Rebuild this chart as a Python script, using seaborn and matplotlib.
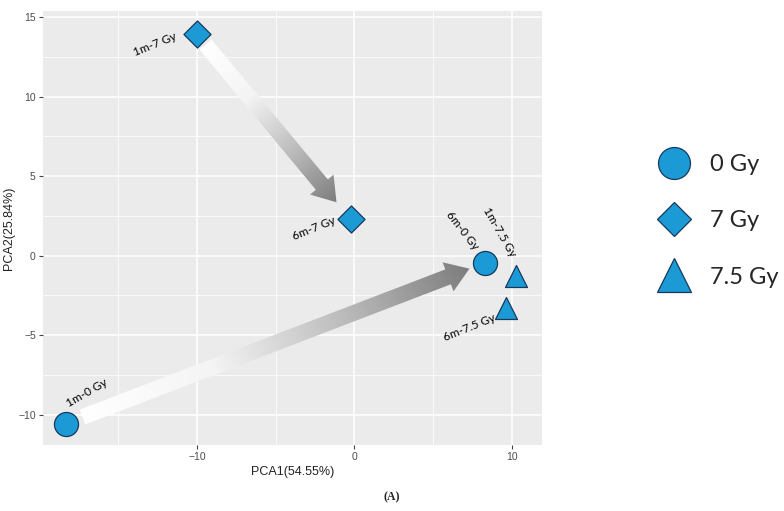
import matplotlib

matplotlib.use("Agg")
import matplotlib.pyplot as plt
import numpy as np
import pandas as pd
import seaborn as sns
from matplotlib.colors import LinearSegmentedColormap
from matplotlib.lines import Line2D
from matplotlib.patches import FancyArrow

# data
sample_labels = ["1m-0 Gy", "6m-0 Gy", "1m-7 Gy", "6m-7 Gy", "1m-7.5 Gy", "6m-7.5 Gy"]
dose_groups = ["0 Gy", "0 Gy", "7 Gy", "7 Gy", "7.5 Gy", "7.5 Gy"]
pca1 = [-18.35, 8.3, -10.0, -0.23, 10.27, 9.64]
pca2 = [-10.55, -0.44, 13.93, 2.29, -1.3, -3.3]
dose_levels = ["0 Gy", "7 Gy", "7.5 Gy"]
x_ticks = [-10, 0, 10]
y_ticks = [-10, -5, 0, 5, 10, 15]

df = pd.DataFrame({"label": sample_labels, "dose": dose_groups, "PCA1": pca1, "PCA2": pca2})

sns.set_theme(style="darkgrid")
plt.rcParams["font.family"] = ["Liberation Sans", "DejaVu Sans"]

BLUE = "#1b9ad6"
EDGE = "#163a5c"
marker_map = {"0 Gy": "o", "7 Gy": "D", "7.5 Gy": "^"}
size_map = {"0 Gy": 300, "7 Gy": 190, "7.5 Gy": 250}

fig = plt.figure(figsize=(7.84, 5.11), dpi=100)
ax = fig.add_axes([0.0545, 0.1292, 0.6372, 0.8499])
ax.set_facecolor("#ebebeb")

xlim = (-19.8, 11.95)
ylim = (-11.9, 15.41)

# gradient arrows: white at the start, grey at the head
cmap = LinearSegmentedColormap.from_list("fade", ["#ffffff", "#f4f4f4", "#bdbdbd", "#7d7d7d"])


def gradient_arrow(ax, p0, p1, shrink0, shrink1, width=1.0, head_w=1.95, head_l=1.45):
    p0 = np.array(p0)
    p1 = np.array(p1)
    d = p1 - p0
    u = d / np.linalg.norm(d)
    a = p0 + u * shrink0
    b = p1 - u * shrink1
    dd = b - a
    arrow = FancyArrow(a[0], a[1], dd[0], dd[1], width=width, head_width=head_w,
                       head_length=head_l, length_includes_head=True,
                       facecolor="none", edgecolor="none", transform=ax.transData)
    ax.add_patch(arrow)
    xs = np.linspace(xlim[0], xlim[1], 400)
    ys = np.linspace(ylim[0], ylim[1], 400)
    X, Y = np.meshgrid(xs, ys)
    t = ((X - a[0]) * dd[0] + (Y - a[1]) * dd[1]) / (dd @ dd)
    im = ax.imshow(np.clip(t, 0, 1), extent=(xlim[0], xlim[1], ylim[0], ylim[1]),
                   origin="lower", cmap=cmap, vmin=0, vmax=1, aspect="auto",
                   zorder=2, interpolation="bilinear")
    im.set_clip_path(arrow)


pos = df.set_index("label")[["PCA1", "PCA2"]]
gradient_arrow(ax, pos.loc["1m-7 Gy"].values, pos.loc["6m-7 Gy"].values, 0.85, 1.4)
gradient_arrow(ax, pos.loc["1m-0 Gy"].values, pos.loc["6m-0 Gy"].values, 1.15, 1.05)

for dose in dose_levels:
    sub = df[df["dose"] == dose]
    sns.scatterplot(data=sub, x="PCA1", y="PCA2", marker=marker_map[dose], s=size_map[dose],
                    color=BLUE, edgecolor=EDGE, linewidth=0.9, ax=ax, zorder=3, legend=False)

# point labels (offset in pixels, rotation)
label_style = {
    "1m-7 Gy": (-42, -10, 22),
    "6m-7 Gy": (-37, -9, 22),
    "6m-0 Gy": (-23, 32, -52),
    "1m-7.5 Gy": (-16, 44, -60),
    "6m-7.5 Gy": (-37, -19, 22),
    "1m-0 Gy": (21, 31, 30),
}
for lab, x, y in zip(df["label"], df["PCA1"], df["PCA2"]):
    ox, oy, rot = label_style[lab]
    ax.annotate(lab, (x, y), xytext=(ox, oy), textcoords="offset pixels", ha="center",
                va="center", rotation=rot, fontsize=8.5, family=["Lato", "DejaVu Sans"],
                color="black", zorder=4)

ax.set_xlim(xlim)
ax.set_ylim(ylim)
ax.set_xticks(x_ticks)
ax.set_yticks(y_ticks)
ax.set_xticks([-15, -5, 5], minor=True)
ax.set_yticks([-7.5, -2.5, 2.5, 7.5, 12.5], minor=True)
ax.grid(which="major", color="white", linewidth=1.1)
ax.grid(which="minor", color="white", linewidth=0.55)
ax.tick_params(which="major", length=3, width=0.8, color="#444444", labelsize=7.5,
               labelcolor="#4d4d4d", pad=2, bottom=True, left=True)
ax.tick_params(which="minor", length=0)
for s in ax.spines.values():
    s.set_visible(False)
ax.set_xlabel("PCA1(54.55%)", fontsize=9, color="#222222", labelpad=3)
ax.set_ylabel("PCA2(25.84%)", fontsize=9, color="#222222", labelpad=2)

handles = [Line2D([], [], linestyle="none", marker=marker_map[d], markersize=ms,
                  markerfacecolor=BLUE, markeredgecolor=EDGE, markeredgewidth=0.9)
           for d, ms in zip(dose_levels, [23, 17, 24])]
fig.legend(handles, dose_levels, loc="center left", bbox_to_anchor=(0.817, 0.568),
           frameon=False, prop={"family": ["Lato", "DejaVu Sans"], "size": 17},
           labelspacing=1.5, handletextpad=0.55, borderaxespad=0)

fig.text(0.5, 0.027, "(A)", ha="center", va="center", fontsize=8.5, fontweight="bold",
         family=["Liberation Serif", "DejaVu Serif"])

fig.savefig("out.png", dpi=100)
